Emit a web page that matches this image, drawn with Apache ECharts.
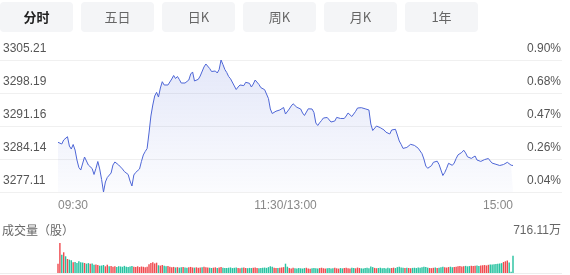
<!DOCTYPE html>
<html><head><meta charset="utf-8">
<script src="https://cdn.jsdelivr.net/npm/echarts@6/dist/echarts.min.js"></script>
<style>html,body{margin:0;padding:0;background:#fff}#c{width:570px;height:275px}</style>
</head><body><div id="c"></div>
<script>
const tabs = ['分时','五日','日K','周K','月K','1年'];
const priceTicks = [3277.11, 3284.14, 3291.16, 3298.19, 3305.21];
const pctLabels = ['0.04%','0.26%','0.47%','0.68%','0.90%'];
const xLabels = ['09:30','11:30/13:00','15:00'];
const volTitle = '成交量（股）';
const volMaxLabel = '716.11万';
const prevClose = 3275.77;

const price = [
3287.69,3287.86,3287.33,3288.18,3288.12,3288.88,3286.90,3286.26,3287.22,3286.05,
3283.92,3282.33,3281.79,3281.58,3284.56,3283.71,3282.86,3282.96,3282.11,3280.84,
3282.11,3283.60,3282.01,3279.77,3277.11,3279.24,3280.20,3280.09,3281.15,3282.86,
3283.50,3283.18,3282.86,3282.75,3282.01,3281.47,3281.37,3280.84,3279.45,3278.39,
3280.73,3281.28,3281.33,3282.01,3283.60,3284.99,3285.73,3286.37,3289.67,3293.29,
3295.63,3297.55,3298.33,3297.33,3299.25,3300.59,3299.89,3299.78,3299.89,3300.21,
3301.17,3301.91,3301.27,3301.70,3301.06,3300.31,3300.46,3300.31,3300.10,3300.95,
3302.23,3302.66,3300.74,3300.95,3301.10,3301.80,3301.59,3303.72,3304.36,3304.61,
3303.40,3302.76,3302.87,3302.87,3302.44,3303.19,3305.21,3304.25,3303.19,3302.55,
3301.70,3301.21,3300.85,3299.68,3298.93,3299.46,3299.89,3299.57,3299.76,3300.46,
3300.27,3300.25,3299.46,3300.10,3300.95,3301.06,3299.99,3299.33,3299.04,3298.89,
3298.50,3297.01,3294.78,3293.82,3294.10,3294.31,3294.25,3294.57,3294.99,3295.10,
3293.71,3293.40,3294.78,3295.42,3295.89,3295.52,3295.14,3294.99,3294.78,3293.93,
3293.40,3293.71,3294.82,3294.91,3294.78,3294.03,3291.80,3291.27,3291.84,3292.33,
3292.86,3293.12,3292.97,3292.71,3292.01,3291.76,3292.22,3292.99,3293.08,3292.76,
3292.48,3292.76,3293.29,3293.93,3294.14,3293.18,3293.08,3294.29,3294.99,3295.20,
3295.06,3294.95,3294.82,3294.78,3294.57,3291.59,3290.20,3290.56,3291.16,3290.84,
3290.80,3290.67,3290.31,3289.84,3289.56,3289.46,3290.31,3290.61,3290.46,3289.24,
3287.97,3287.24,3286.39,3286.80,3286.60,3286.80,3287.26,3287.16,3287.03,3286.75,
3286.43,3286.05,3285.26,3284.13,3282.64,3282.16,3282.39,3282.71,3283.43,3283.33,
3283.67,3282.96,3281.79,3280.62,3281.26,3282.16,3283.22,3282.82,3282.79,3283.28,
3284.24,3285.01,3285.14,3285.54,3286.01,3285.43,3284.60,3284.20,3284.26,3284.54,
3284.77,3283.92,3283.50,3283.62,3283.84,3284.01,3284.18,3284.24,3283.71,3283.26,
3283.07,3283.01,3282.96,3282.75,3282.71,3282.96,3283.28,3283.43,3283.20,3282.82,3282.75
];

// 成交量，单位：万股
const volume = [
222,716.11,437,494,399,334,318,303,255,262,
239,279,255,250,239,222,236,218,225,198,
201,191,174,178,191,160,198,162,168,150,
160,145,162,155,148,170,152,143,158,165,
150,146,160,142,155,148,140,152,210,238,
255,228,246,185,176,190,172,160,168,150,
138,145,132,140,128,135,142,130,126,138,
145,132,128,136,124,130,140,150,138,132,
126,120,128,135,122,130,142,128,120,118,
126,132,118,124,130,122,116,128,134,120,
115,122,118,126,132,120,114,118,125,130,
122,140,160,150,128,122,118,126,132,140,
222,
150,118,110,124,115,108,120,112,106,
118,125,110,104,116,122,112,108,118,126,
114,106,112,120,108,116,124,112,105,118,
110,122,128,116,108,124,118,112,130,120,
112,106,118,124,116,155,140,122,114,120,
126,112,118,110,124,116,120,128,118,140,
150,132,124,118,128,120,114,122,126,118,
130,124,138,150,142,128,120,116,124,132,
120,128,140,152,136,130,142,150,138,145,
150,160,168,155,162,170,158,165,172,168,
175,182,170,178,185,190,180,195,200,205,
210,215,220,225,235,262,280,298,250,30,
413
];

// minute categories 09:30-11:30, 13:01-15:00
const times = [];
function pad(n){return (n<10?'0':'')+n;}
for (let m = 9*60+30; m <= 11*60+30; m++) times.push(pad(Math.floor(m/60))+':'+pad(m%60));
for (let m = 13*60+1; m <= 15*60; m++) times.push(pad(Math.floor(m/60))+':'+pad(m%60));

const UP = '#f04b50', DOWN = '#26c2a0';
const volData = volume.map((v, i) => {
  const prev = i === 0 ? prevClose : price[i-1];
  return { value: v, itemStyle: { color: price[i] >= prev ? UP : DOWN } };
});

const FONT = "'Liberation Sans','Noto Sans CJK SC',sans-serif";
const yMin = priceTicks[0], yMax = priceTicks[priceTicks.length-1];
const labelIdx = [0, 120, 240];

function nearestTick(v){
  let best = 0;
  for (let k = 1; k < priceTicks.length; k++) if (Math.abs(priceTicks[k]-v) < Math.abs(priceTicks[best]-v)) best = k;
  return best;
}

const graphics = [];
tabs.forEach((t, i) => {
  graphics.push({ type: 'rect', left: i*81, top: 2, shape: { width: 73, height: 30, r: 4 }, style: { fill: '#f4f5f7' } });
  graphics.push({ type: 'text', x: i*81 + 36.5, y: 17, style: { text: t, fill: i === 0 ? '#222' : '#666', font: (i === 0 ? 'bold ' : '') + "13px 'Noto Sans CJK SC',sans-serif", align: 'center', verticalAlign: 'middle' } });
});
graphics.push({ type: 'text', x: 2, y: 230, style: { text: volTitle, fill: '#666', font: "12px 'Noto Sans CJK SC',sans-serif", align: 'left', verticalAlign: 'middle' } });
graphics.push({ type: 'text', x: 561, y: 231, style: { text: volMaxLabel, fill: '#666', font: "12px 'Liberation Sans','Noto Sans CJK SC',sans-serif", align: 'right', verticalAlign: 'middle' } });
graphics.push({ type: 'line', shape: { x1: 0, y1: 273.5, x2: 562, y2: 273.5 }, style: { stroke: '#eeeeee', lineWidth: 1 } });

const chart = echarts.init(document.getElementById('c'), null, { renderer: 'canvas' });
chart.setOption({
  animation: false,
  textStyle: { fontFamily: FONT },
  graphic: graphics,
  grid: [
    { left: 0, right: 8, top: 60, height: 132 },
    { left: 58, right: 57, top: 60, height: 132 },
    { left: 58, right: 57, top: 243, height: 30 }
  ],
  xAxis: [
    { type: 'value', gridIndex: 0, min: 0, max: 1, show: false },
    { type: 'category', gridIndex: 1, data: times, boundaryGap: false,
      axisLine: { show: false }, axisTick: { show: false }, splitLine: { show: false },
      axisLabel: { interval: (i) => labelIdx.indexOf(i) >= 0, formatter: (v, i) => xLabels[labelIdx.indexOf(i)] || v,
        color: '#888', fontSize: 12, margin: 8, alignMinLabel: 'left', alignMaxLabel: 'right', showMinLabel: true, showMaxLabel: true } },
    { type: 'category', gridIndex: 2, data: times, boundaryGap: false, show: false }
  ],
  yAxis: [
    { type: 'value', gridIndex: 0, position: 'left', min: yMin, max: yMax,
      axisLine: { show: false }, axisTick: { show: false, customValues: priceTicks },
      splitLine: { show: true, lineStyle: { color: '#f0f0f0', width: 1 } },
      axisLabel: { inside: true, customValues: priceTicks, margin: 3, color: '#555', fontSize: 12,
        verticalAlign: 'bottom', padding: [0, 0, 5, 0], formatter: (v) => v.toFixed(2) } },
    { type: 'value', gridIndex: 0, position: 'right', min: yMin, max: yMax,
      axisLine: { show: false }, axisTick: { show: false, customValues: priceTicks }, splitLine: { show: false },
      axisLabel: { inside: true, customValues: priceTicks, margin: 1, color: '#555', fontSize: 12,
        verticalAlign: 'bottom', padding: [0, 0, 5, 0], formatter: (v) => pctLabels[nearestTick(v)] } },
    { type: 'value', gridIndex: 1, min: yMin, max: yMax, show: false },
    { type: 'value', gridIndex: 2, min: 0, max: volume[1], show: false }
  ],
  series: [
    { type: 'line', xAxisIndex: 1, yAxisIndex: 2, data: price, showSymbol: false, symbol: 'none',
      lineStyle: { color: '#4e66d6', width: 1 },
      areaStyle: { origin: 'start', color: new echarts.graphic.LinearGradient(0, 0, 0, 1, [
        { offset: 0, color: 'rgba(78,102,214,0.22)' }, { offset: 1, color: 'rgba(78,102,214,0.03)' }]) } },
    { type: 'bar', xAxisIndex: 2, yAxisIndex: 3, data: volData, barWidth: '75%' }
  ]
});
</script>
</body></html>
